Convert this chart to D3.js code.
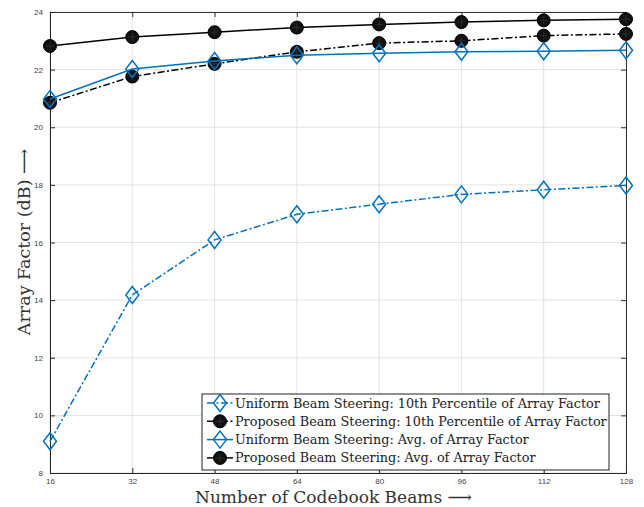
<!DOCTYPE html>
<html><head><meta charset="utf-8">
<script src="https://cdn.jsdelivr.net/npm/d3@7"></script>
<style>body{margin:0;background:#fff}</style>
</head><body>
<script>
const beams = [16, 32, 48, 64, 80, 96, 112, 128];
const uniform10 = [9.1, 14.18, 16.09, 16.98, 17.33, 17.67, 17.83, 17.98];
const proposed10 = [20.85, 21.76, 22.2, 22.62, 22.92, 23.0, 23.18, 23.24];
const uniformAvg = [20.98, 22.02, 22.3, 22.5, 22.57, 22.62, 22.64, 22.67];
const proposedAvg = [22.82, 23.13, 23.3, 23.46, 23.57, 23.65, 23.71, 23.75];
const yTicks = [8, 10, 12, 14, 16, 18, 20, 22, 24];
const seriesNames = [
  "Uniform Beam Steering: 10th Percentile of Array Factor",
  "Proposed Beam Steering: 10th Percentile of Array Factor",
  "Uniform Beam Steering: Avg. of Array Factor",
  "Proposed Beam Steering: Avg. of Array Factor"
];
const xLabel = "Number of Codebook Beams \u27F6";
const yLabel = "Array Factor (dB) \u27F6";

const W = 644, H = 507;
const L = 50, R = 626, T = 12, B = 473;
const blue = "#0072BD";
const dashdot = "7,2.5,2,2.5";
const series = [
  {vals: uniform10, color: blue, dash: dashdot, marker: "diamond"},
  {vals: proposed10, color: "#000", dash: dashdot, marker: "circle"},
  {vals: uniformAvg, color: blue, dash: null, marker: "diamond"},
  {vals: proposedAvg, color: "#000", dash: null, marker: "circle"}
];

const svg = d3.select("body").append("svg").attr("width", W).attr("height", H);
const x = d3.scaleLinear().domain([16, 128]).range([L, R]);
const y = d3.scaleLinear().domain([8, 24]).range([B, T]);

// grid
const g = svg.append("g");
g.selectAll(".gx").data(beams).enter().append("line")
  .attr("x1", d => x(d)).attr("x2", d => x(d)).attr("y1", T).attr("y2", B)
  .attr("stroke", "#e3e3e3").attr("stroke-width", 1);
g.selectAll(".gy").data(yTicks).enter().append("line")
  .attr("x1", L).attr("x2", R).attr("y1", d => y(d)).attr("y2", d => y(d))
  .attr("stroke", "#e3e3e3").attr("stroke-width", 1);

// axes with inward ticks
const axB = d3.axisBottom(x).tickValues(beams).tickSize(-5).tickPadding(5);
const axL = d3.axisLeft(y).tickValues(yTicks).tickSize(-5).tickPadding(7);
const axT = d3.axisTop(x).tickValues(beams).tickSize(-5).tickFormat("");
const axR = d3.axisRight(y).tickValues(yTicks).tickSize(-5).tickFormat("");
function style(sel, col) {
  sel.select(".domain").attr("stroke", col).attr("stroke-width", 1);
  sel.selectAll(".tick line").attr("stroke", col);
  sel.selectAll("text").attr("font-family", "Liberation Sans, Arial, sans-serif").attr("font-size", 8).attr("fill", "#444");
}
svg.append("g").attr("transform", `translate(0,${T})`).call(axT).call(s => style(s, "#333"));
svg.append("g").attr("transform", `translate(${R},0)`).call(axR).call(s => style(s, "#333"));
svg.append("g").attr("transform", `translate(0,${B})`).call(axB).call(s => style(s, "#262626"));
svg.append("g").attr("transform", `translate(${L},0)`).call(axL).call(s => style(s, "#262626"));

// markers
function drawMarker(sel, type, color, cx, cy) {
  if (type === "diamond") {
    sel.append("path").attr("d", `M${cx},${cy-8.5}L${cx+6.5},${cy}L${cx},${cy+8.5}L${cx-6.5},${cy}Z`)
      .attr("fill", "none").attr("stroke", color).attr("stroke-width", 1.5);
  } else {
    sel.append("circle").attr("cx", cx).attr("cy", cy).attr("r", 6.5)
      .attr("fill", "#111").attr("stroke", "#000").attr("stroke-width", 1);
    sel.append("path").attr("d", `M${cx-4},${cy}H${cx+4}M${cx},${cy-4}V${cy+4}`)
      .attr("stroke", "#333").attr("stroke-width", 0.8);
  }
}

const line = d3.line().x((d, i) => x(beams[i])).y(d => y(d));
series.forEach(s => {
  svg.append("path").attr("d", line(s.vals)).attr("fill", "none")
    .attr("stroke", s.color).attr("stroke-width", 1.5)
    .attr("stroke-dasharray", s.dash);
  const mg = svg.append("g");
  s.vals.forEach((v, i) => drawMarker(mg, s.marker, s.color, x(beams[i]), y(v)));
});

// legend
const lg = svg.append("g");
lg.append("rect").attr("x", 202).attr("y", 394).attr("width", 407).attr("height", 76)
  .attr("fill", "#fff").attr("stroke", "#222").attr("stroke-width", 1);
series.forEach((s, i) => {
  const ly = 403 + i * 18.3;
  lg.append("line").attr("x1", 207).attr("x2", 233).attr("y1", ly).attr("y2", ly)
    .attr("stroke", s.color).attr("stroke-width", 1.5).attr("stroke-dasharray", s.dash);
  drawMarker(lg, s.marker, s.color, 220, ly);
  lg.append("text").attr("x", 235).attr("y", ly + 4.5).text(seriesNames[i])
    .attr("font-family", "DejaVu Serif, serif").attr("font-size", 12.8).attr("fill", "#222");
});

// axis labels
svg.append("text").attr("x", 195).attr("y", 503).text(xLabel)
  .attr("font-family", "DejaVu Serif, serif").attr("font-size", 17).attr("fill", "#333");
svg.append("text").attr("transform", "translate(30,242) rotate(-90)").attr("text-anchor", "middle").text(yLabel)
  .attr("font-family", "DejaVu Serif, serif").attr("font-size", 17.5).attr("fill", "#333");
</script>
</body></html>
